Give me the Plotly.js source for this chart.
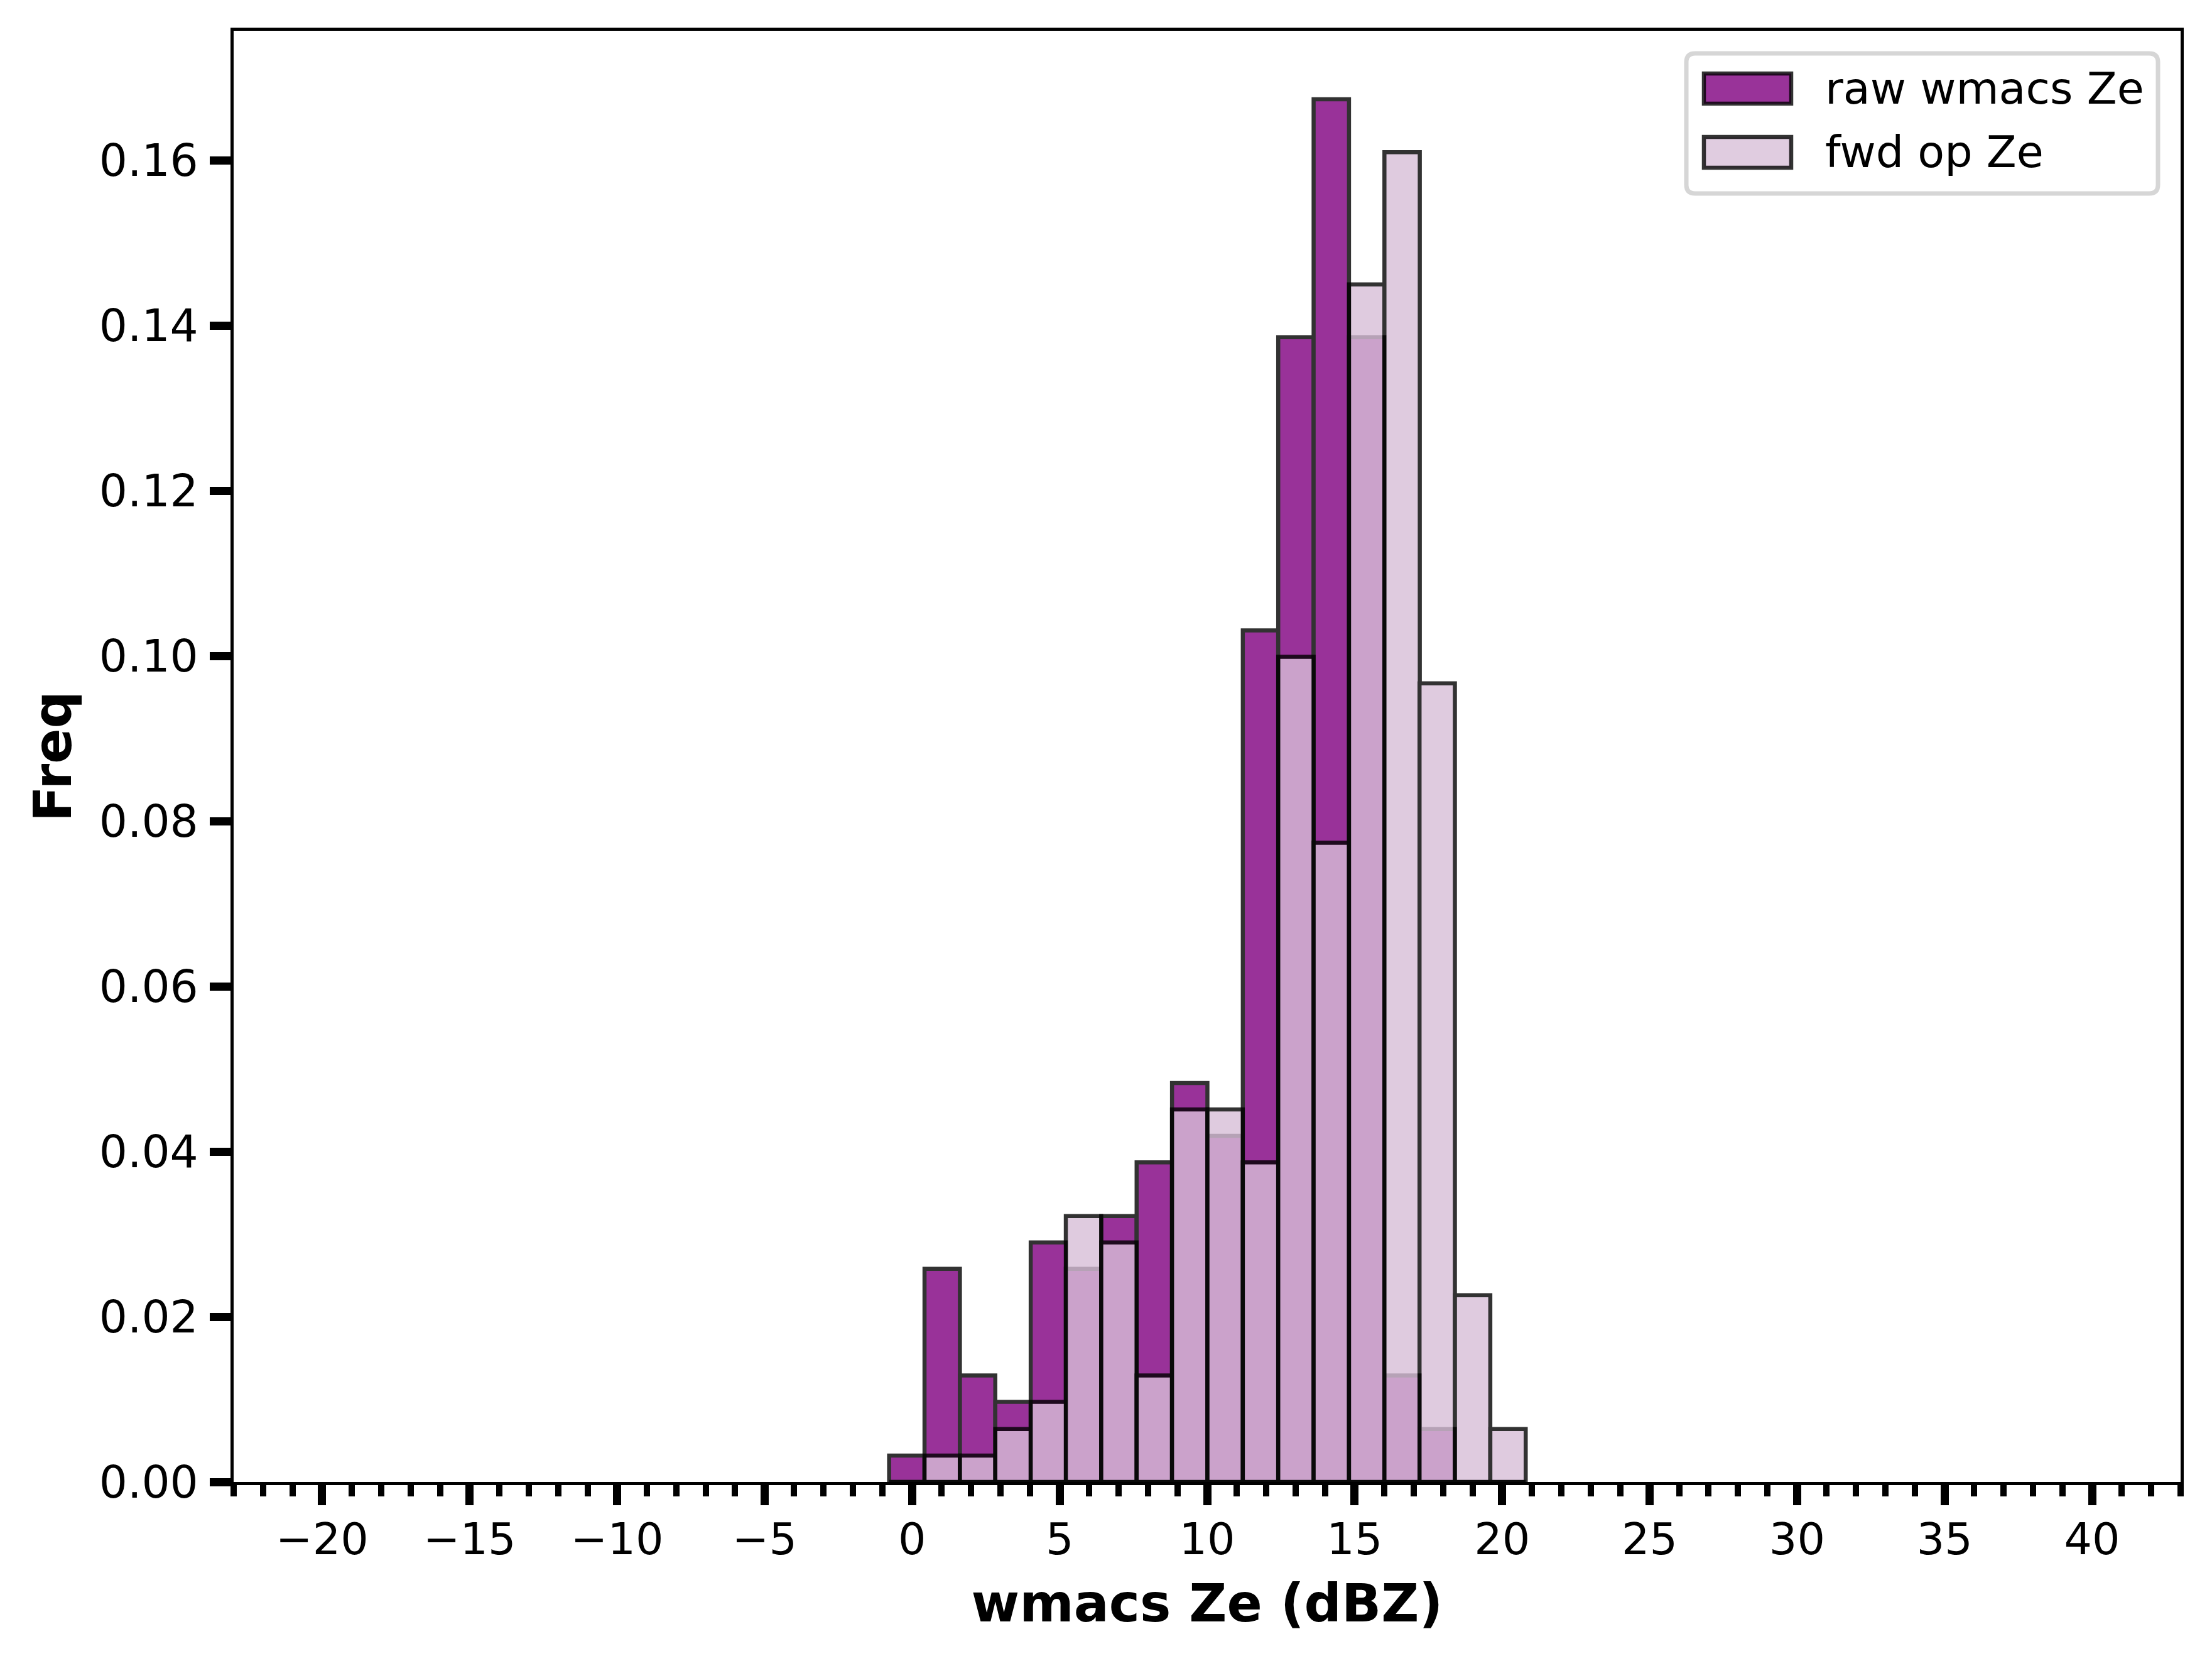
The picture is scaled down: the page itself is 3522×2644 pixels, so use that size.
<!DOCTYPE html>
<html>
<head>
<meta charset="utf-8">
<script src="https://cdn.plot.ly/plotly-3.0.1.min.js"></script>
<style>
  html, body { margin: 0; padding: 0; background: #ffffff; }
  #chart { width: 3522px; height: 2644px; }
</style>
</head>
<body>
<div id="chart"></div>
<script>
// ---- data (density, shared bins) ----
const binCenters = [-0.18, 1.02, 2.22, 3.42, 4.62, 5.81, 7.01, 8.21, 9.41,
                    10.61, 11.81, 13.01, 14.21, 15.41, 16.61, 17.80, 19.00, 20.20];
const binWidth = 1.199;
const rawZe = [0.0032, 0.0258, 0.0129, 0.0097, 0.0290, 0.0258, 0.0322, 0.0387, 0.0483,
               0.0419, 0.1031, 0.1386, 0.1674, 0.1386, 0.0129, 0.0064, 0.0, 0.0];
const fwdZe = [0.0, 0.0032, 0.0032, 0.0064, 0.0097, 0.0322, 0.0290, 0.0129, 0.0451,
               0.0451, 0.0387, 0.0999, 0.0774, 0.1450, 0.1610, 0.0967, 0.0226, 0.0064];
const seriesNames = ['raw wmacs Ze', 'fwd op Ze'];
const xTitle = 'wmacs Ze (dBZ)';
const yTitle = 'Freq';

// ---- layout geometry (pixels) ----
const W = 3522, H = 2644;
const L = 372, R = 3472, T = 49, B = 2359;
const FONT = 'DejaVu Sans';
const px = x => (x - L) / (R - L);
const py = y => (B - y) / (B - T);

const traces = [
  {
    type: 'bar', name: seriesNames[0], x: binCenters, y: rawZe,
    width: binCenters.map(() => binWidth),
    marker: { color: 'rgb(128,0,128)', line: { color: '#000000', width: 6.5 } },
    opacity: 0.8, showlegend: false, hoverinfo: 'x+y'
  },
  {
    type: 'bar', name: seriesNames[1], x: binCenters, y: fwdZe,
    width: binCenters.map(() => binWidth),
    marker: { color: 'rgb(216,191,216)', line: { color: '#000000', width: 6.5 } },
    opacity: 0.8, showlegend: false, hoverinfo: 'x+y'
  }
];

// legend box (rounded) built as shapes + annotations
function roundRect(x0p, y0p, x1p, y1p, r) {
  const x0 = px(x0p), x1 = px(x1p), yT = py(y0p), yB = py(y1p);
  const rx = r / (R - L), ry = r / (B - T);
  return `M ${x0 + rx},${yB} L ${x1 - rx},${yB} Q ${x1},${yB} ${x1},${yB + ry} ` +
         `L ${x1},${yT - ry} Q ${x1},${yT} ${x1 - rx},${yT} L ${x0 + rx},${yT} ` +
         `Q ${x0},${yT} ${x0},${yT - ry} L ${x0},${yB + ry} Q ${x0},${yB} ${x0 + rx},${yB} Z`;
}
const shapes = [
  { type: 'path', xref: 'paper', yref: 'paper', path: roundRect(2685, 85, 3436, 308, 14),
    fillcolor: 'rgba(255,255,255,0.8)', line: { color: '#d6d6d6', width: 7 }, layer: 'above' },
  { type: 'rect', xref: 'paper', yref: 'paper', x0: px(2713), x1: px(2852), y0: py(165), y1: py(117),
    fillcolor: 'rgba(128,0,128,0.8)', line: { color: 'rgba(0,0,0,0.8)', width: 6.5 }, layer: 'above' },
  { type: 'rect', xref: 'paper', yref: 'paper', x0: px(2713), x1: px(2852), y0: py(267), y1: py(218),
    fillcolor: 'rgba(216,191,216,0.8)', line: { color: 'rgba(0,0,0,0.8)', width: 6.5 }, layer: 'above' }
];
const annotations = [
  { xref: 'paper', yref: 'paper', x: px(2904), y: py(141), xanchor: 'left', yanchor: 'middle',
    text: seriesNames[0], showarrow: false, font: { family: FONT, size: 70, color: '#000' } },
  { xref: 'paper', yref: 'paper', x: px(2904), y: py(242), xanchor: 'left', yanchor: 'middle',
    text: seriesNames[1], showarrow: false, font: { family: FONT, size: 70, color: '#000' } }
];

const layout = {
  width: W, height: H,
  margin: { l: L, r: W - R, t: T, b: H - B, pad: 0 },
  paper_bgcolor: '#ffffff', plot_bgcolor: '#ffffff',
  barmode: 'overlay',
  font: { family: FONT, color: '#000000', size: 70 },
  showlegend: false,
  xaxis: {
    range: [-23, 43], tick0: 0, dtick: 5,
    showgrid: false, zeroline: false,
    showline: true, linecolor: '#000000', linewidth: 5, mirror: true,
    ticks: 'outside', ticklen: 32, tickwidth: 13, tickcolor: '#000000',
    ticklabelstandoff: -6,
    tickfont: { family: FONT, size: 70, color: '#000000' },
    minor: { tick0: 0, dtick: 1, ticks: 'outside', ticklen: 18, tickwidth: 10, tickcolor: '#000000', showgrid: false },
    title: { text: xTitle, font: { family: FONT, size: 83, color: '#000000', weight: 'bold' }, standoff: 34 }
  },
  yaxis: {
    range: [0, 0.1757], tick0: 0, dtick: 0.02, tickformat: '.2f',
    showgrid: false, zeroline: false,
    showline: true, linecolor: '#000000', linewidth: 5, mirror: true,
    ticks: 'outside', ticklen: 33, tickwidth: 13, tickcolor: '#000000',
    ticklabelstandoff: 4,
    tickfont: { family: FONT, size: 71, color: '#000000' },
    title: { text: yTitle, font: { family: FONT, size: 83, color: '#000000', weight: 'bold' }, standoff: 18 }
  },
  shapes: shapes,
  annotations: annotations
};

Plotly.newPlot('chart', traces, layout, { displayModeBar: false, staticPlot: true });
</script>
</body>
</html>
